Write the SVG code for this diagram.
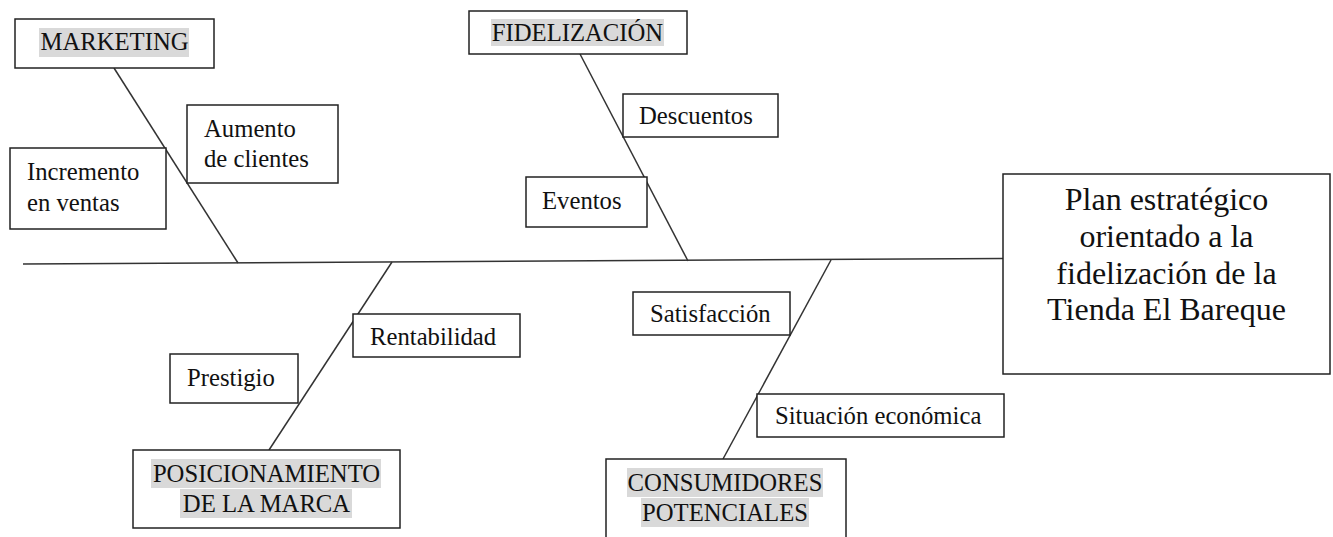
<svg xmlns="http://www.w3.org/2000/svg" width="1333" height="537" viewBox="0 0 1333 537">
<style>
.box{fill:#fff;stroke:#222;stroke-width:1.5}
.ln{stroke:#333;stroke-width:1.5;fill:none}
.hl{fill:#d9d9d9}
text{font-family:"Liberation Serif","Times New Roman",serif;font-size:24.7px;fill:#111}
.c{text-anchor:middle}
.big{font-size:32px}
</style>
<rect width="1333" height="537" fill="#fff"/>
<g id="connectors">
<line class="ln" x1="23" y1="264" x2="1003" y2="258.5"/>
<line class="ln" x1="114" y1="68" x2="238" y2="263"/>
<line class="ln" x1="580" y1="54" x2="688" y2="261"/>
<line class="ln" x1="392" y1="262" x2="269" y2="450"/>
<line class="ln" x1="831" y1="260" x2="723" y2="459"/>
</g>
<g id="marketing">
<rect class="box" x="15" y="19" width="199" height="49"/>
<rect class="hl" x="39" y="28" width="150" height="29"/>
<text class="c" x="114.5" y="50">MARKETING</text>
</g>
<g id="fidelizacion">
<rect class="box" x="469" y="11" width="218" height="43"/>
<rect class="hl" x="491" y="19" width="173" height="27"/>
<text class="c" x="577.5" y="41">FIDELIZACIÓN</text>
</g>
<g id="aumento">
<rect class="box" x="187" y="105" width="151" height="78"/>
<text x="204" y="137">Aumento</text>
<text x="204" y="167">de clientes</text>
</g>
<g id="incremento">
<rect class="box" x="10" y="148" width="156" height="81"/>
<text x="27" y="180">Incremento</text>
<text x="27" y="211">en ventas</text>
</g>
<g id="descuentos">
<rect class="box" x="623" y="94" width="155" height="43"/>
<text x="639" y="124">Descuentos</text>
</g>
<g id="eventos">
<rect class="box" x="526" y="177" width="121" height="50"/>
<text x="542" y="209">Eventos</text>
</g>
<g id="plan">
<rect class="box" x="1003" y="174" width="327" height="200"/>
<text class="c big" x="1166.5" y="210">Plan estratégico</text>
<text class="c big" x="1166.5" y="247">orientado a la</text>
<text class="c big" x="1166.5" y="284">fidelización de la</text>
<text class="c big" x="1166.5" y="320">Tienda El Bareque</text>
</g>
<g id="rentabilidad">
<rect class="box" x="353" y="314" width="167" height="43"/>
<text x="370" y="345">Rentabilidad</text>
</g>
<g id="prestigio">
<rect class="box" x="170" y="354" width="128" height="49"/>
<text x="187" y="386">Prestigio</text>
</g>
<g id="posicionamiento">
<rect class="box" x="133" y="450" width="267" height="78"/>
<rect class="hl" x="151" y="459" width="230" height="29"/>
<rect class="hl" x="180" y="489" width="172" height="29"/>
<text class="c" x="266.5" y="482">POSICIONAMIENTO</text>
<text class="c" x="266.5" y="512">DE LA MARCA</text>
</g>
<g id="satisfaccion">
<rect class="box" x="633" y="292" width="157" height="43"/>
<text x="650" y="322">Satisfacción</text>
</g>
<g id="situacion">
<rect class="box" x="757" y="394" width="247" height="43"/>
<text x="775" y="424">Situación económica</text>
</g>
<g id="consumidores">
<rect class="box" x="606" y="459" width="240" height="90"/>
<rect class="hl" x="627" y="468" width="196" height="29"/>
<rect class="hl" x="641" y="498" width="168" height="29"/>
<text class="c" x="725" y="491">CONSUMIDORES</text>
<text class="c" x="725" y="521">POTENCIALES</text>
</g>
</svg>
